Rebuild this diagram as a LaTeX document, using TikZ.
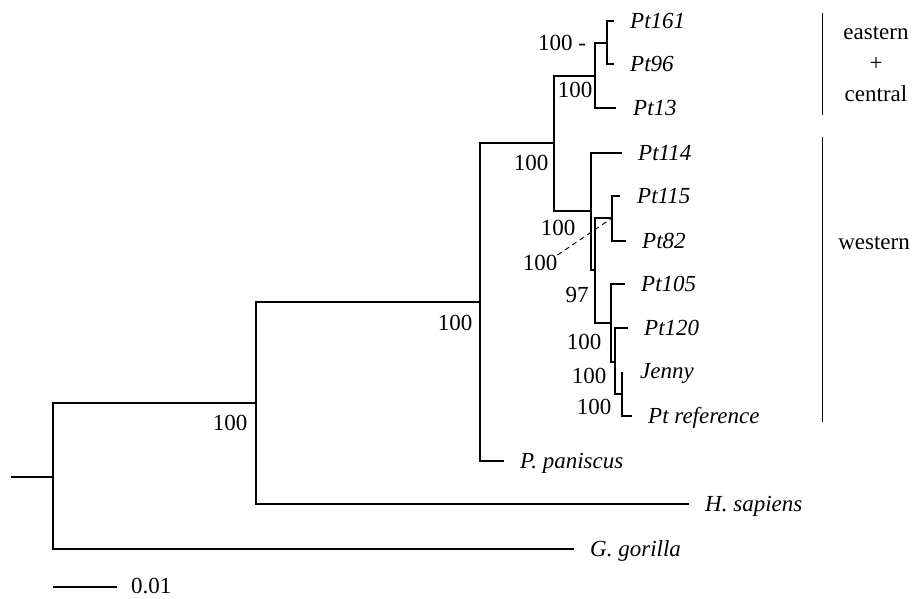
\documentclass[tikz,border=0pt]{standalone}
\usepackage{fontspec}
\setmainfont{Liberation Serif}
\newcommand{\figfont}{\fontsize{23}{31}\selectfont}
\begin{document}
\begin{tikzpicture}[x=1pt,y=-1pt,
  br/.style={line width=1.5pt, line cap=rect},
  tip/.style={anchor=base west, inner sep=0pt, font=\figfont\itshape},
  sup/.style={anchor=center, inner sep=0pt, font=\figfont},
  clade/.style={anchor=center, inner sep=0pt, align=center, font=\figfont}]
\useasboundingbox (0,0) rectangle (917,598);
% internal nodes
\coordinate (s0) at (12,477);
\coordinate (r0) at (53,477);
\coordinate (n1) at (256,403);
\coordinate (n2) at (480,302);
\coordinate (n3) at (554,143);
\coordinate (nE) at (595,76);
\coordinate (nE2) at (607,43);
\coordinate (nW) at (591,211);
\coordinate (nW2) at (595,270);
\coordinate (nW3) at (612,218);
\coordinate (nW4) at (611,323);
\coordinate (nW5) at (615,362);
\coordinate (nW6) at (622,394);
% tips
\coordinate (t161) at (613,21);
\coordinate (t96) at (613,64);
\coordinate (t13) at (615,108);
\coordinate (t114) at (621,153);
\coordinate (t115) at (619,196);
\coordinate (t82) at (625,241);
\coordinate (t105) at (624,284);
\coordinate (t120) at (627,328);
\coordinate (tJ) at (622,373);
\coordinate (tRef) at (631,416);
\coordinate (tPan) at (503,461);
\coordinate (tHs) at (688,504);
\coordinate (tGg) at (573,549);
% branches
\draw[br] (s0) -- (r0);
\draw[br] (r0) |- (n1);
\draw[br] (r0) |- (tGg);
\draw[br] (n1) |- (n2);
\draw[br] (n1) |- (tHs);
\draw[br] (n2) |- (n3);
\draw[br] (n2) |- (tPan);
\draw[br] (n3) |- (nE);
\draw[br] (n3) |- (nW);
\draw[br] (nE) |- (nE2);
\draw[br] (nE) |- (t13);
\draw[br] (nE2) |- (t161);
\draw[br] (nE2) |- (t96);
\draw[br] (nW) |- (t114);
\draw[br] (nW) |- (nW2);
\draw[br] (nW2) |- (nW3);
\draw[br] (nW2) |- (nW4);
\draw[br] (nW3) |- (t115);
\draw[br] (nW3) |- (t82);
\draw[br] (nW4) |- (t105);
\draw[br] (nW4) |- (nW5);
\draw[br] (nW5) |- (t120);
\draw[br] (nW5) |- (nW6);
\draw[br] (nW6) |- (tJ);
\draw[br] (nW6) |- (tRef);
% tip labels
\node[tip] (l161) at ([xshift=17pt,yshift=-7.5pt]t161) {Pt161};
\node[tip] (l96) at ([xshift=17pt,yshift=-7.5pt]t96) {Pt96};
\node[tip] (l13) at ([xshift=18pt,yshift=-7.5pt]t13) {Pt13};
\node[tip] (l114) at ([xshift=17pt,yshift=-7.5pt]t114) {Pt114};
\node[tip] (l115) at ([xshift=18pt,yshift=-7.5pt]t115) {Pt115};
\node[tip] (l82) at ([xshift=17pt,yshift=-7.5pt]t82) {Pt82};
\node[tip] (l105) at ([xshift=17pt,yshift=-7.5pt]t105) {Pt105};
\node[tip] (l120) at ([xshift=17pt,yshift=-7.5pt]t120) {Pt120};
\node[tip] (lJ) at ([xshift=18pt,yshift=-5pt]tJ) {Jenny};
\node[tip] (lRef) at ([xshift=17pt,yshift=-7.5pt]tRef) {Pt reference};
\node[tip] (lPan) at ([xshift=17pt,yshift=-7.5pt]tPan) {P. paniscus};
\node[tip] (lHs) at ([xshift=17pt,yshift=-7.5pt]tHs) {H. sapiens};
\node[tip] (lGg) at ([xshift=17pt,yshift=-7.5pt]tGg) {G. gorilla};
% support values
\node[sup] (b1) at (230,423) {100};
\node[sup] (b2) at (455,323) {100};
\node[sup] (b3) at (531,163) {100};
\node[sup] (bE) at (575,90) {100};
\node[sup] (bE2) at (562,43) {100 -};
\node[sup] (bW) at (558,228) {100};
\node[sup] (bW3) at (540,263) {100};
\draw[line width=0.9pt, dashed, dash pattern=on 5pt off 4pt] (bW3.north east) -- (nW3);
\node[sup] (bW4) at (577,295) {97};
\node[sup] (bW5) at (584,342) {100};
\node[sup] (bW6) at (589,376) {100};
\node[sup] (bW7) at (594,407) {100};
% clade bars
\coordinate (eT) at (822,13);
\coordinate (eB) at (822,115);
\draw[line width=1pt] (eT) -- (eB);
\node[clade] (eLab) at (876,64) {eastern\\+\\central};
\coordinate (wT) at (822,137);
\coordinate (wB) at (822,422);
\draw[line width=1pt] (wT) -- (wB);
\node[clade] (wLab) at (874,243) {western};
% scale bar
\coordinate (sA) at (53,587);
\coordinate (sB) at (117,587);
\draw[line width=1.2pt] (sA) -- (sB);
\node[anchor=west, inner sep=0pt, font=\figfont] (sLab) at (131,586) {0.01};
\end{tikzpicture}
\end{document}
